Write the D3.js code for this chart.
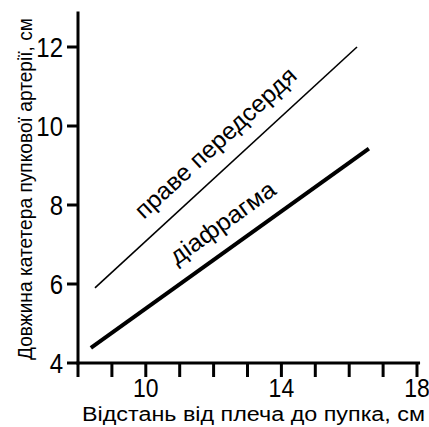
<!DOCTYPE html>
<html><head><meta charset="utf-8">
<script src="https://cdn.jsdelivr.net/npm/d3@7"></script>
<style>body{margin:0;background:#fff}svg{display:block}</style>
</head><body>
<svg id="c" width="429" height="427"></svg>
<script>
const xTicks = [8,9,10,11,12,13,14,15,16,17,18];
const xLabels = [10,14,18];
const yTicks = [4,6,8,10,12];
const seriesNames = ["праве передсердя","діафрагма"];
const rightAtrium = [[8.5,5.9],[16.23,12.0]];
const diaphragm = [[8.38,4.38],[16.58,9.43]];
const xTitle = "Відстань від плеча до пупка, см";
const yTitle = "Довжина катетера пупкової артерії, см";

const svg = d3.select("#c");
const font = "'Liberation Sans', Arial, sans-serif";
const x = d3.scaleLinear().domain([8,18]).range([78,417]);
const y = d3.scaleLinear().domain([4,12]).range([363,47]);

// x axis
const gx = svg.append("g").attr("transform", `translate(0,${y(4)})`);
gx.append("line").attr("x1", x(8)-1.5).attr("x2", x(18.09)).attr("stroke","#000").attr("stroke-width",3);
gx.selectAll("line.t").data(xTicks).join("line").attr("class","t")
  .attr("x1", d=>x(d)).attr("x2", d=>x(d)).attr("y1",0).attr("y2",14)
  .attr("stroke","#000").attr("stroke-width",3);
gx.selectAll("text").data(xLabels).join("text")
  .attr("transform", d=>`translate(${x(d)},34) scale(1,1.12)`)
  .attr("text-anchor","middle").attr("font-family",font).attr("font-size",23)
  .text(d=>d);

// y axis
const gy = svg.append("g").attr("transform", `translate(${x(8)},0)`);
gy.append("line").attr("y1", y(4)+1.5).attr("y2", y(12.9)).attr("stroke","#000").attr("stroke-width",3);
gy.selectAll("line.t").data(yTicks).join("line").attr("class","t")
  .attr("y1", d=>y(d)).attr("y2", d=>y(d)).attr("x1",-11).attr("x2",0)
  .attr("stroke","#000").attr("stroke-width",3);
gy.selectAll("text").data(yTicks).join("text")
  .attr("transform", d=>`translate(-15,${y(d)+10}) scale(1,1.15)`)
  .attr("text-anchor","end").attr("font-family",font).attr("font-size",24)
  .text(d=>d);

// lines
const line = d3.line().x(d=>x(d[0])).y(d=>y(d[1]));
svg.append("path").attr("d", line(rightAtrium)).attr("fill","none").attr("stroke","#000").attr("stroke-width",1.6);
svg.append("path").attr("d", line(diaphragm)).attr("fill","none").attr("stroke","#000").attr("stroke-width",4);

function label(pts, txt, along, perp, fs, len){
  const x0=x(pts[0][0]), y0=y(pts[0][1]), x1=x(pts[1][0]), y1=y(pts[1][1]);
  const ang = Math.atan2(y1-y0, x1-x0);
  const ux=Math.cos(ang), uy=Math.sin(ang);
  const nx=uy, ny=-ux;
  const px = x0+ux*along+nx*perp, py=y0+uy*along+ny*perp;
  svg.append("text").attr("transform",`translate(${px},${py}) rotate(${ang*180/Math.PI})`)
    .attr("font-family",font).attr("font-size",fs)
    .attr("textLength",len).attr("lengthAdjust","spacingAndGlyphs").text(txt);
}
label(rightAtrium, seriesNames[0], 82, 17, 24, 210);
label(diaphragm, seriesNames[1], 118, 17, 24, 124);

// titles
svg.append("text").attr("x", 253.5).attr("y", 421).attr("text-anchor","middle")
  .attr("font-family",font).attr("font-size",20).attr("textLength",343).attr("lengthAdjust","spacingAndGlyphs")
  .text(xTitle);
svg.append("text").attr("transform","translate(32,189) rotate(-90)").attr("text-anchor","middle")
  .attr("font-family",font).attr("font-size",20).attr("textLength",342).attr("lengthAdjust","spacingAndGlyphs")
  .text(yTitle);
</script>
</body></html>
